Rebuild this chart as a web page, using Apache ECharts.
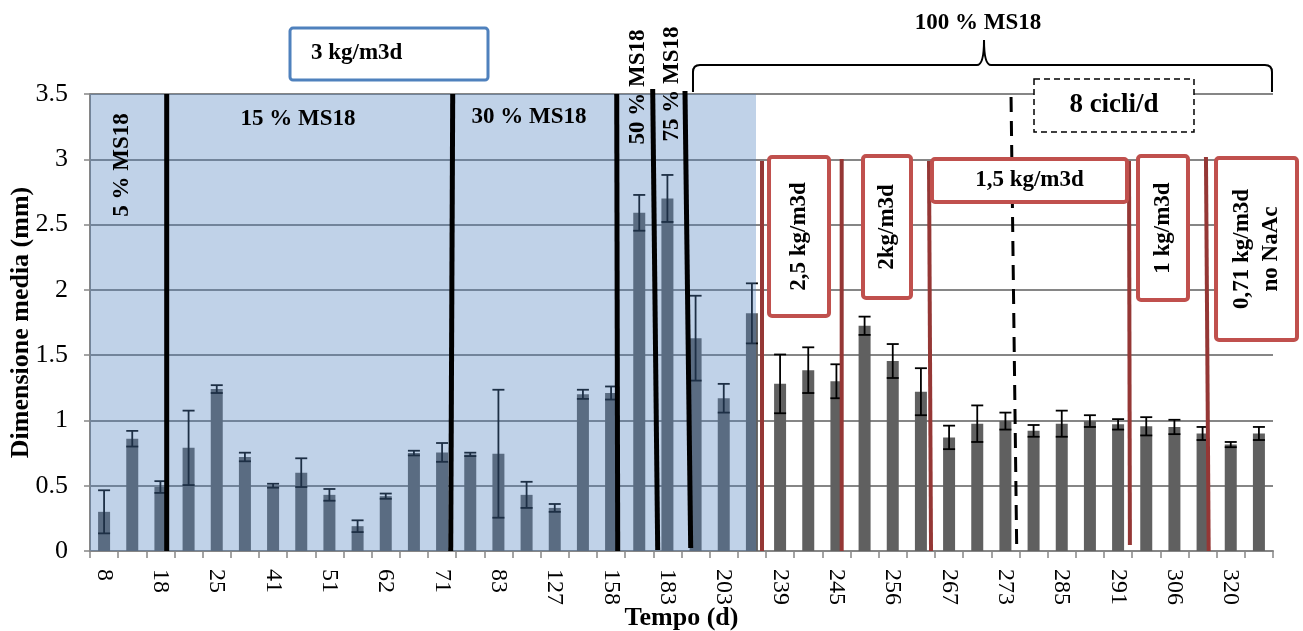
<!DOCTYPE html>
<html>
<head>
<meta charset="utf-8">
<script src="https://cdn.jsdelivr.net/npm/echarts@6/dist/echarts.min.js"></script>
<style>
  html, body { margin: 0; padding: 0; background: #ffffff; }
  #chart { width: 1303px; height: 631px; }
</style>
</head>
<body>
<div id="chart"></div>
<script>
// Sampling days shown on the time axis (one label every second sample)
const tickLabels = ['8', '18', '25', '41', '51', '62', '71', '83', '127', '158', '183',
                    '203', '239', '245', '256', '267', '273', '285', '291', '306', '320'];

// Mean granule size (mm) per sample
const meanSize = [0.30, 0.86, 0.49, 0.79, 1.24, 0.72, 0.50, 0.60, 0.43, 0.19, 0.42, 0.75,
                  0.755, 0.74, 0.745, 0.43, 0.33, 1.20, 1.21, 2.59, 2.70, 1.63, 1.17, 1.82,
                  1.28, 1.385, 1.30, 1.725, 1.455, 1.22, 0.87, 0.975, 0.995, 0.92, 0.975, 0.995,
                  0.97, 0.955, 0.95, 0.90, 0.815, 0.90];

// Standard deviation (mm) per sample
const errSize = [0.165, 0.06, 0.045, 0.285, 0.03, 0.033, 0.015, 0.11, 0.045, 0.045, 0.02, 0.018,
                 0.072, 0.013, 0.49, 0.10, 0.03, 0.035, 0.05, 0.137, 0.18, 0.325, 0.11, 0.23,
                 0.225, 0.175, 0.13, 0.07, 0.13, 0.18, 0.09, 0.14, 0.065, 0.045, 0.10, 0.045,
                 0.04, 0.07, 0.055, 0.05, 0.02, 0.05];

// Every sample is a category; only every other one carries a day label
const categories = meanSize.map((_, i) => (i % 2 === 0 ? tickLabels[i / 2] : ''));
const errorData = meanSize.map((m, i) => [i, m, errSize[i]]);

const SERIF = '"Liberation Serif", "Times New Roman", serif';
const GRID_COL = '#868686';
const RED_BOX = '#C0504D';
const RED_LINE = '#953735';

// Annotation layout, expressed in plot units: x runs 0..42 across the samples, y in mm
const shadedPhase = { from: [0, 0], to: [23.645, 3.5] };

const annotations = [
  // MS18 fraction dividers
  { kind: 'line', from: [2.723, 3.5], to: [2.723, 0], color: '#000', width: 5 },
  { kind: 'line', from: [12.877, 3.5], to: [12.806, 0], color: '#000', width: 5 },
  { kind: 'line', from: [18.70, 3.5], to: [18.735, 0], color: '#000', width: 5 },
  { kind: 'line', from: [19.977, 3.538], to: [20.155, 0.008], color: '#000', width: 5 },
  { kind: 'line', from: [21.124, 3.523], to: [21.327, 0.023], color: '#000', width: 5 },
  // loading-rate dividers
  { kind: 'line', from: [23.858, 2.987], to: [23.858, 0], color: RED_LINE, width: 4 },
  { kind: 'line', from: [26.687, 3.002], to: [26.687, 0], color: RED_LINE, width: 4 },
  { kind: 'line', from: [29.787, 2.987], to: [29.858, 0], color: RED_LINE, width: 4 },
  { kind: 'line', from: [36.888, 2.987], to: [36.92, 0.046], color: RED_LINE, width: 4 },
  { kind: 'line', from: [39.62, 3.018], to: [39.717, 0], color: RED_LINE, width: 4 },
  // start of 8 cycles per day
  { kind: 'line', from: [32.70, 3.477], to: [32.90, 0.031], color: '#000', width: 3, dash: [15, 9] },
  // phase labels
  { kind: 'text', at: [1.136, 2.956], text: '5 % MS18', rotate: true },
  { kind: 'text', at: [7.385, 3.309], text: '15 % MS18' },
  { kind: 'text', at: [15.586, 3.324], text: '30 % MS18' },
  { kind: 'text', at: [19.455, 3.554], text: '50 % MS18', rotate: true },
  { kind: 'text', at: [20.663, 3.577], text: '75 % MS18', rotate: true },
  { kind: 'text', at: [31.53, 4.044], text: '100 % MS18' },
  { kind: 'brace', left: [21.408, 3.515], right: [41.964, 3.515], level: 3.722, tip: [31.74, 3.914] },
  // boxed labels
  { kind: 'box', from: [7.101, 4.005], to: [14.13, 3.607], stroke: '#4F81BD', width: 3,
    text: '3 kg/m3d', textAt: [7.846, 3.814], align: 'left' },
  { kind: 'box', from: [33.515, 3.615], to: [39.195, 3.209], stroke: '#000', width: 1.5, dash: [6, 4],
    text: '8 cicli/d', size: 27 },
  { kind: 'box', from: [24.107, 3.018], to: [26.237, 1.80], stroke: RED_BOX, width: 4,
    text: '2,5 kg/m3d', rotate: true },
  { kind: 'box', from: [27.444, 3.025], to: [29.148, 1.938], stroke: RED_BOX, width: 4,
    text: '2kg/m3d', rotate: true },
  { kind: 'box', from: [29.893, 3.002], to: [36.817, 2.673], stroke: RED_BOX, width: 4,
    text: '1,5 kg/m3d' },
  { kind: 'box', from: [37.207, 3.025], to: [38.982, 1.922], stroke: RED_BOX, width: 4,
    text: '1 kg/m3d', rotate: true },
  { kind: 'box', from: [39.977, 3.010], to: [42.852, 1.616], stroke: RED_BOX, width: 4,
    text: '0,71 kg/m3d\nno NaAc', rotate: true }
];

function textEl(p, text, opts) {
  return {
    type: 'text',
    x: p[0], y: p[1],
    rotation: opts.rotate ? Math.PI / 2 : 0,
    z2: 10,
    style: {
      text: text,
      fontFamily: SERIF,
      fontWeight: 'bold',
      fontSize: opts.size || 23,
      lineHeight: opts.lineHeight || 29,
      fill: '#000',
      align: opts.align || 'center',
      verticalAlign: 'middle'
    }
  };
}

function renderAnnotation(params, api) {
  const a = annotations[params.dataIndex];
  if (a.kind === 'line') {
    const p1 = api.coord(a.from), p2 = api.coord(a.to);
    return {
      type: 'line', z2: 1,
      shape: { x1: p1[0], y1: p1[1], x2: p2[0], y2: p2[1] },
      style: { stroke: a.color, lineWidth: a.width, lineDash: a.dash || null }
    };
  }
  if (a.kind === 'text') {
    return textEl(api.coord(a.at), a.text, a);
  }
  if (a.kind === 'brace') {
    const L = api.coord(a.left), R = api.coord(a.right), T = api.coord(a.tip);
    const yh = api.coord([0, a.level])[1];
    const r = 7;
    const d = [
      'M', L[0], L[1],
      'L', L[0], yh + r,
      'Q', L[0], yh, L[0] + r, yh,
      'L', T[0] - r, yh,
      'Q', T[0], yh, T[0], T[1],
      'Q', T[0], yh, T[0] + r, yh,
      'L', R[0] - r, yh,
      'Q', R[0], yh, R[0], yh + r,
      'L', R[0], R[1]
    ].join(' ');
    return {
      type: 'path', z2: 2,
      shape: { pathData: d },
      style: { fill: 'none', stroke: '#000', lineWidth: 2 }
    };
  }
  // box
  const p1 = api.coord(a.from), p2 = api.coord(a.to);
  const x = Math.min(p1[0], p2[0]), y = Math.min(p1[1], p2[1]);
  const w = Math.abs(p2[0] - p1[0]), h = Math.abs(p2[1] - p1[1]);
  const tp = a.textAt ? api.coord(a.textAt) : [x + w / 2, y + h / 2];
  return {
    type: 'group',
    children: [
      {
        type: 'rect', z2: 5,
        shape: { x: x, y: y, width: w, height: h, r: a.dash ? 0 : 3 },
        style: { fill: '#ffffff', stroke: a.stroke, lineWidth: a.width, lineDash: a.dash || null }
      },
      textEl(tp, a.text, a)
    ]
  };
}

const chart = echarts.init(document.getElementById('chart'), null, { renderer: 'canvas' });

chart.setOption({
  animation: false,
  backgroundColor: '#ffffff',
  grid: { left: 90, right: 30, top: 94, bottom: 80, containLabel: false, outerBoundsMode: 'none' },
  xAxis: [
    {
      type: 'category',
      data: categories,
      boundaryGap: true,
      name: 'Tempo (d)',
      nameLocation: 'middle',
      nameGap: 54,
      nameMoveOverlap: false,
      nameTextStyle: { fontFamily: SERIF, fontWeight: 'bold', fontSize: 26, color: '#000' },
      axisLine: { show: true, lineStyle: { color: GRID_COL, width: 2 } },
      axisTick: { show: true, interval: 0, length: 7, alignWithLabel: false,
                  lineStyle: { color: GRID_COL, width: 1.5 } },
      axisLabel: { interval: 0, rotate: -90, margin: 18, fontFamily: SERIF, fontSize: 24, color: '#000' },
      splitLine: { show: false }
    },
    {
      // plot-unit scale used to place annotations
      type: 'value', min: 0, max: 42, show: false,
      splitLine: { show: false }
    }
  ],
  yAxis: {
    type: 'value',
    min: 0, max: 3.5, interval: 0.5,
    name: 'Dimensione media (mm)',
    nameLocation: 'middle',
    nameGap: 56,
    nameMoveOverlap: false,
    nameTextStyle: { fontFamily: SERIF, fontWeight: 'bold', fontSize: 26, color: '#000' },
    axisLine: { show: true, lineStyle: { color: GRID_COL, width: 2 } },
    axisTick: { show: true, length: 6, lineStyle: { color: GRID_COL, width: 1.5 } },
    axisLabel: { margin: 22, fontFamily: SERIF, fontSize: 26, color: '#000' },
    splitLine: { show: true, lineStyle: { color: GRID_COL, width: 2 } }
  },
  series: [
    {
      name: 'Dimensione media',
      type: 'bar',
      xAxisIndex: 0,
      data: meanSize,
      barWidth: 12,
      itemStyle: { color: '#606060' },
      z: 2,
      silent: true
    },
    {
      name: 'Deviazione standard',
      type: 'custom',
      xAxisIndex: 0,
      data: errorData,
      encode: { x: 0, y: 1 },
      z: 3,
      silent: true,
      renderItem: function (params, api) {
        const i = api.value(0), m = api.value(1), e = api.value(2);
        const top = api.coord([i, m + e]);
        const bot = api.coord([i, m - e]);
        const half = 6;
        const st = { stroke: '#000', lineWidth: 1.8 };
        return {
          type: 'group',
          children: [
            { type: 'line', shape: { x1: top[0], y1: top[1], x2: bot[0], y2: bot[1] }, style: st },
            { type: 'line', shape: { x1: top[0] - half, y1: top[1], x2: top[0] + half, y2: top[1] }, style: st },
            { type: 'line', shape: { x1: bot[0] - half, y1: bot[1], x2: bot[0] + half, y2: bot[1] }, style: st }
          ]
        };
      }
    },
    {
      name: 'Fase 3 kg/m3d',
      type: 'custom',
      xAxisIndex: 1,
      data: [[0, 0]],
      clip: false,
      z: 4,
      silent: true,
      renderItem: function (params, api) {
        const p1 = api.coord(shadedPhase.from), p2 = api.coord(shadedPhase.to);
        return {
          type: 'rect',
          shape: { x: p1[0], y: p2[1], width: p2[0] - p1[0], height: p1[1] - p2[1] },
          style: { fill: 'rgba(79,131,190,0.36)' }
        };
      }
    },
    {
      name: 'Annotazioni',
      type: 'custom',
      xAxisIndex: 1,
      data: annotations.map(() => [0, 0]),
      clip: false,
      z: 5,
      silent: true,
      renderItem: renderAnnotation
    }
  ]
});
</script>
</body>
</html>
